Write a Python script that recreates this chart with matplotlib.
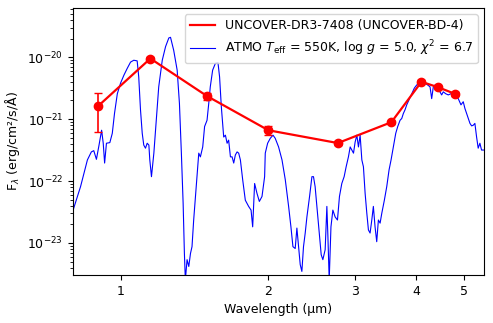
import numpy as np
import matplotlib
matplotlib.use('Agg')
import matplotlib.pyplot as plt
from matplotlib.ticker import NullLocator, LogLocator, NullFormatter

# photometry of the source (um, erg/cm2/s/A)
phot_wave = [0.90, 1.15, 1.50, 2.00, 2.77, 3.56, 4.10, 4.44, 4.80]
phot_flux = [1.62e-21, 9.5e-21, 2.35e-21, 6.6e-22, 4.1e-22, 8.9e-22, 4.0e-21, 3.25e-21, 2.55e-21]
phot_err = [1.0e-21, 4e-22, 3e-22, 1.1e-22, 3e-23, 5e-23, 2e-22, 1.5e-22, 1.5e-22]

# ATMO model spectrum (um, log10 flux)
model_wave = [0.802, 0.829, 0.856, 0.872, 0.882, 0.893, 0.904, 0.915, 0.922, 0.928,
              0.936, 0.951, 0.962, 0.972, 0.985, 1.000, 1.016, 1.032, 1.048, 1.064,
              1.081, 1.089, 1.098, 1.107, 1.115, 1.124, 1.133, 1.142, 1.147, 1.156,
              1.169, 1.182, 1.196, 1.216, 1.235, 1.254, 1.264, 1.283, 1.304, 1.318,
              1.330, 1.341, 1.349, 1.355, 1.366, 1.377, 1.388, 1.398, 1.409, 1.426,
              1.443, 1.454, 1.470, 1.483, 1.500, 1.512, 1.523, 1.540, 1.560, 1.579,
              1.591, 1.604, 1.622, 1.635, 1.648, 1.660, 1.674, 1.687, 1.700, 1.713,
              1.727, 1.740, 1.754, 1.773, 1.795, 1.823, 1.844, 1.858, 1.875, 1.896,
              1.917, 1.941, 1.965, 1.971, 1.993, 2.018, 2.044, 2.065, 2.098, 2.132,
              2.165, 2.199, 2.223, 2.244, 2.268, 2.286, 2.304, 2.322, 2.340, 2.358,
              2.377, 2.396, 2.426, 2.453, 2.471, 2.490, 2.518, 2.542, 2.562, 2.582,
              2.610, 2.631, 2.644, 2.660, 2.682, 2.706, 2.735, 2.765, 2.791, 2.822,
              2.853, 2.880, 2.911, 2.935, 2.958, 2.981, 3.004, 3.028, 3.051, 3.075,
              3.100, 3.123, 3.148, 3.173, 3.197, 3.222, 3.248, 3.272, 3.298, 3.324,
              3.350, 3.377, 3.404, 3.445, 3.484, 3.522, 3.555, 3.594, 3.634, 3.668,
              3.708, 3.738, 3.766, 3.796, 3.826, 3.867, 3.917, 3.965, 4.009, 4.053,
              4.105, 4.169, 4.222, 4.268, 4.301, 4.334, 4.368, 4.423, 4.471, 4.507,
              4.541, 4.592, 4.649, 4.708, 4.759, 4.813, 4.872, 4.934, 4.987, 5.027,
              5.091, 5.147, 5.187, 5.226, 5.267, 5.309, 5.349, 5.392, 5.434, 5.493]
model_logf = [-22.45, -22.09, -21.66, -21.53, -21.51, -21.65, -21.42, -21.18, -21.39, -21.71,
              -21.39, -21.38, -21.23, -20.91, -20.59, -20.42, -20.29, -20.18, -20.08, -20.05,
              -20.06, -20.32, -20.85, -21.23, -21.42, -21.47, -21.39, -21.42, -21.66, -21.93,
              -21.55, -21.02, -20.48, -20.05, -19.83, -19.69, -19.68, -19.89, -20.21, -20.75,
              -21.55, -22.36, -23.17, -23.60, -23.27, -23.38, -23.17, -23.06, -22.63, -22.09,
              -21.55, -21.61, -21.45, -21.12, -21.02, -20.75, -20.48, -20.21, -20.10, -20.09,
              -20.32, -20.80, -21.29, -21.26, -21.39, -21.34, -21.61, -21.61, -21.71, -21.58,
              -21.53, -21.55, -21.66, -21.98, -22.31, -22.41, -22.47, -22.74, -22.04, -22.20,
              -22.33, -22.25, -21.93, -21.55, -21.39, -21.31, -21.26, -21.31, -21.45, -21.66,
              -21.98, -22.41, -22.74, -23.06, -23.09, -22.76, -23.06, -23.35, -23.46, -23.06,
              -22.84, -22.58, -22.25, -21.93, -21.93, -22.09, -22.52, -22.90, -23.19, -23.27,
              -23.11, -22.41, -22.90, -23.60, -22.74, -22.47, -22.58, -22.63, -22.25, -22.04,
              -21.93, -21.77, -21.61, -21.45, -21.50, -21.55, -21.37, -21.26, -21.45, -21.26,
              -21.66, -21.77, -22.20, -22.52, -22.79, -22.84, -22.63, -22.41, -22.74, -22.98,
              -22.63, -22.68, -22.52, -22.31, -22.09, -21.82, -21.66, -21.45, -21.23, -21.12,
              -21.02, -20.99, -20.91, -20.85, -20.77, -20.69, -20.59, -20.50, -20.45, -20.42,
              -20.40, -20.42, -20.45, -20.48, -20.67, -20.48, -20.45, -20.53, -20.56, -20.61,
              -20.56, -20.59, -20.61, -20.59, -20.61, -20.64, -20.67, -20.77, -20.72, -20.83,
              -20.96, -21.07, -21.11, -21.10, -21.07, -21.29, -21.47, -21.39, -21.50, -21.50]

model_flux = 10 ** np.array(model_logf)

fig = plt.figure(figsize=(4.93, 3.23), dpi=100)
ax = fig.add_axes([0.148, 0.149, 0.834, 0.826])

# photometry: line + points, error bars drawn separately so the legend shows a plain line
ax.plot(phot_wave, phot_flux, color='red', lw=1.6, zorder=3,
        label='UNCOVER-DR3-7408 (UNCOVER-BD-4)')
ax.errorbar(phot_wave, phot_flux, yerr=phot_err, fmt='o', color='red', ms=6,
            capsize=3, elinewidth=1.2, zorder=3)
ax.plot(model_wave, model_flux, color='blue', lw=0.8,
        label=r'ATMO $T_{\rm eff}$ = 550K, log $g$ = 5.0, $\chi^2$ = 6.7')

ax.set_xscale('log')
ax.set_yscale('log')
ax.set_xlim(0.8, 5.5)
ax.set_ylim(3.05e-24, 6.2e-20)
ax.set_xticks([1, 2, 3, 4, 5])
ax.set_xticklabels(['1', '2', '3', '4', '5'])
ax.xaxis.set_minor_locator(NullLocator())
ax.set_yticks([1e-23, 1e-22, 1e-21, 1e-20])
ax.yaxis.set_minor_locator(LogLocator(base=10, subs=np.arange(2, 10)))
ax.yaxis.set_minor_formatter(NullFormatter())
ax.tick_params(labelsize=9)

ax.set_xlabel('Wavelength (μm)', fontsize=9)
ax.set_ylabel('F$_\\lambda$ (erg/cm²/s/Å)', fontsize=9)

ax.legend(loc='upper right', fontsize=9)

fig.savefig('out.png', dpi=100)
